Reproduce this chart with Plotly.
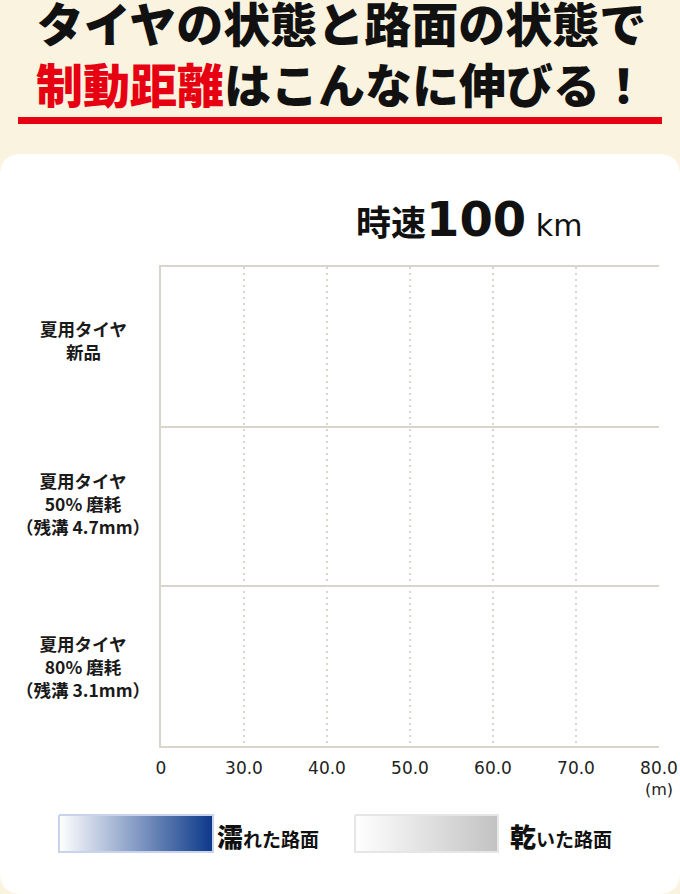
import plotly.graph_objects as go

# ---- data ----
categories = [
    "夏用タイヤ<br>新品",
    "夏用タイヤ<br>50% 磨耗<br>（残溝 4.7mm）",
    "夏用タイヤ<br>80% 磨耗<br>（残溝 3.1mm）",
]
tick_vals = [20, 30, 40, 50, 60, 70, 80]
tick_labels = ["0", "30.0", "40.0", "50.0", "60.0", "70.0", "80.0"]
axis_unit = "(m)"
speed_title = ("時速", "100", "km")
legend_wet = ("濡", "れた路面")
legend_dry = ("乾", "いた路面")

W, H = 680, 894
def px(x):
    return x / W
def py(y):
    return 1 - y / H

CJK = "Noto Sans CJK JP"
GRID = "#d9d4cc"
fig = go.Figure()

# invisible trace to set up main axes
fig.add_trace(go.Scatter(x=[None], y=[None], xaxis="x", yaxis="y",
                         showlegend=False, hoverinfo="skip"))

# legend swatches on a full-page pixel axis
def swatch(x0, x1, y0, y1, c0, c1, border):
    fig.add_trace(go.Scatter(
        x=[x0, x1, x1, x0, x0], y=[y0, y0, y1, y1, y0],
        xaxis="x2", yaxis="y2", mode="lines", fill="toself",
        line=dict(color=border, width=2),
        fillgradient=dict(type="horizontal", colorscale=[[0, c0], [1, c1]]),
        hoverinfo="skip", showlegend=False))

swatch(59, 213, 815, 852, "#ffffff", "#0b3889", "#c9d4ec")
swatch(355, 498, 815, 852, "#ffffff", "#c2c2c2", "#e6e6e6")

n = len(categories)
fig.update_layout(
    width=W, height=H, autosize=False,
    margin=dict(l=0, r=0, t=0, b=0, autoexpand=False),
    paper_bgcolor="#faf3df",
    plot_bgcolor="rgba(0,0,0,0)",
    showlegend=False,
    xaxis=dict(
        domain=[px(161), px(659)], range=[tick_vals[0], tick_vals[-1]],
        tickvals=tick_vals, ticktext=tick_labels, ticks="",
        showgrid=True, gridcolor=GRID, gridwidth=2, griddash="2px,4px",
        showline=True, mirror=True, linecolor=GRID, linewidth=2,
        zeroline=False, ticklabelstandoff=6, automargin=False,
        tickfont=dict(family="DejaVu Sans", size=17, color="#222"),
        anchor="y", fixedrange=True,
    ),
    yaxis=dict(
        domain=[py(746), py(267)], range=[n, 0],
        tickvals=list(range(1, n)), showticklabels=False, ticks="",
        showgrid=True, gridcolor=GRID, gridwidth=2,
        showline=True, mirror=False, linecolor=GRID, linewidth=2,
        zeroline=False, anchor="x", fixedrange=True, automargin=False,
    ),
    xaxis2=dict(domain=[0, 1], range=[0, W], visible=False, anchor="y2",
                fixedrange=True, automargin=False),
    yaxis2=dict(domain=[0, 1], range=[H, 0], visible=False, anchor="x2",
                fixedrange=True, automargin=False),
)

# white rounded panel (paper coords, drawn below everything)
x0, x1, y0, y1 = 0, 680, 154, 894
r = 22
def P(x, y):
    return f"{px(x):.5f},{py(y):.5f}"
path = (f"M{P(x0+r,y0)} L{P(x1-r,y0)} Q{P(x1,y0)} {P(x1,y0+r)} L{P(x1,y1-r)} "
        f"Q{P(x1,y1)} {P(x1-r,y1)} L{P(x0+r,y1)} Q{P(x0,y1)} {P(x0,y1-r)} "
        f"L{P(x0,y0+r)} Q{P(x0,y0)} {P(x0+r,y0)} Z")
fig.add_shape(type="path", path=path, xref="paper", yref="paper",
              fillcolor="white", line=dict(width=0), layer="below")
# red underline
fig.add_shape(type="line", x0=px(18), x1=px(662), y0=py(120.5), y1=py(120.5),
              xref="paper", yref="paper",
              line=dict(color="#e60012", width=7), layer="below")

def ann(text, x, y, font, xanchor="center", align="center"):
    fig.add_annotation(text=text, x=x, y=y, xref="paper", yref="paper",
                       xanchor=xanchor, yanchor="middle", showarrow=False,
                       align=align, font=font, borderpad=0)

# two-line headline
ann("タイヤの状態と路面の状態で<br>"
    "<span style='color:#e60012'>制動距離</span>はこんなに伸びる！",
    px(341), py(52), dict(family=CJK, size=47, weight=900, color="#111"))

ann((f"<span style='font-family:\"{CJK}\";font-size:35px'>{speed_title[0]}</span>"
     f"<span style='font-family:\"DejaVu Sans\";font-size:48px'>{speed_title[1]}</span>"
     f"<span style='font-family:\"DejaVu Sans\";font-size:30px;font-weight:normal'> {speed_title[2]}</span>"),
    px(469), py(219), dict(family=CJK, size=35, weight="bold", color="#111"))

# row labels (small vertical nudges in rows, in px)
label_nudge_px = [-7, -3, 0]
row_px = (746 - 267) / n
for i, c in enumerate(categories):
    fig.add_annotation(text=c, x=px(83), y=i + 0.5 + label_nudge_px[i] / row_px,
                       xref="paper", yref="y",
                       xanchor="center", yanchor="middle",
                       showarrow=False, align="center",
                       font=dict(family=CJK, size=17.5, weight="bold", color="#1a1a1a"))

# unit
ann(axis_unit, px(659), py(789), dict(family="DejaVu Sans", size=16, color="#222"))

# legend labels
for (big, small), xl in [(legend_wet, 216), (legend_dry, 509)]:
    ann(f"<span style='font-size:26px;font-weight:900'>{big}</span>{small}",
        px(xl), py(835), dict(family=CJK, size=19, weight="bold", color="#111"),
        xanchor="left")

post = (
    "document.body.style.margin='0';"
    "document.documentElement.style.overflow='hidden';"
    "document.body.style.overflow='hidden';"
)
fig.write_html("out.html", post_script=post,
               config={"displayModeBar": False, "responsive": False})
